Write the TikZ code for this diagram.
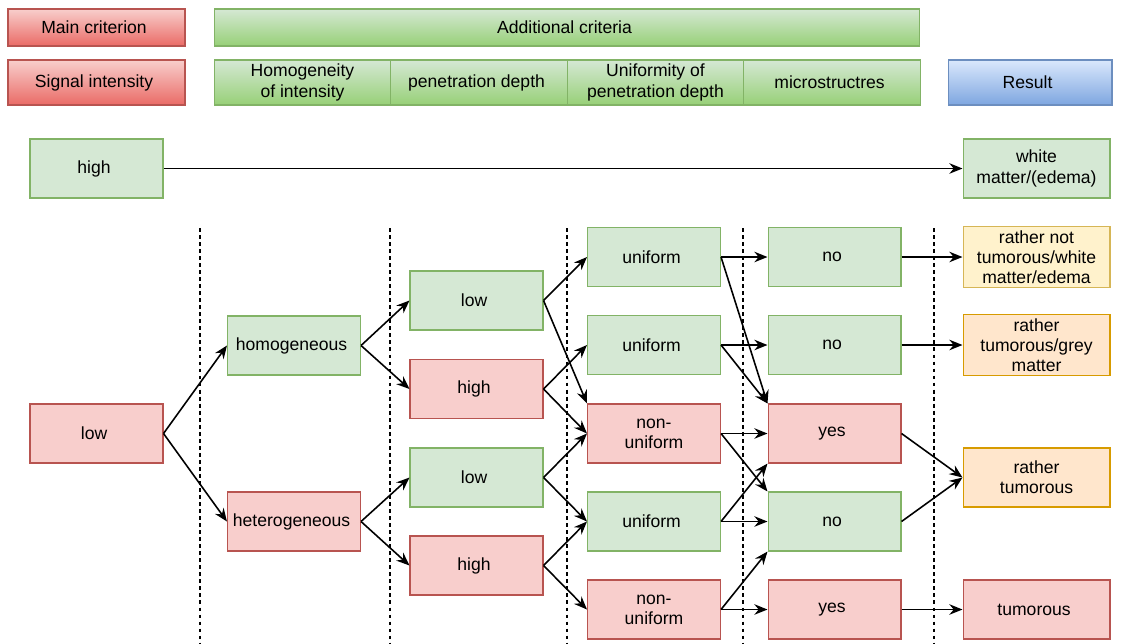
\documentclass[tikz,border=0pt]{standalone}
\usepackage{fontspec}
\setmainfont{Liberation Sans}
\usetikzlibrary{arrows,arrows.meta,positioning,shapes}
\usepackage{xcolor}
\definecolor{greenfill}{HTML}{D5E8D4}
\definecolor{greenline}{HTML}{82B366}
\definecolor{greendark}{HTML}{97D077}
\definecolor{redfill}{HTML}{F8CECC}
\definecolor{redline}{HTML}{B85450}
\definecolor{reddark}{HTML}{EA6B66}
\definecolor{bluefill}{HTML}{DAE8FC}
\definecolor{blueline}{HTML}{6C8EBF}
\definecolor{bluedark}{HTML}{7EA6E0}
\definecolor{yellowfill}{HTML}{FFF2CC}
\definecolor{yellowline}{HTML}{D6B656}
\definecolor{orangefill}{HTML}{FFE6CC}
\definecolor{orangeline}{HTML}{D79B00}

\begin{document}
\begin{tikzpicture}[x=0.02cm, y=-0.02cm, every node/.style={
    rectangle,
    inner sep=2pt,
    draw,
    line width=0.6pt,
    align=center,
    font=\fontsize{10}{11.5}\selectfont,
    minimum width=2.66cm,
    minimum height=1.18cm
},
greenbox/.style={fill=greenfill, draw=greenline},
redbox/.style={fill=redfill, draw=redline},
yellowbox/.style={fill=yellowfill, draw=yellowline, minimum width=2.94cm},
orangebox/.style={fill=orangefill, draw=orangeline, minimum width=2.94cm},
greenhead/.style={top color=greenfill, bottom color=greendark, draw=greenline, minimum width=3.53cm, minimum height=0.9cm},
redhead/.style={top color=redfill, bottom color=reddark, draw=redline, minimum width=3.54cm, minimum height=0.9cm},
bluehead/.style={top color=bluefill, bottom color=bluedark, draw=blueline, minimum width=3.28cm, minimum height=0.9cm},
link/.style={-{Stealth[length=7.5pt, width=6pt, inset=2.5pt]}, line width=0.9pt},
separator/.style={dash pattern=on 2.2pt off 1.8pt, line width=0.8pt}
]
    \useasboundingbox (0,0) rectangle (1121,643);
    % header rows
    \node (main_criterion) [redhead, minimum height=0.74cm, shift={(96.5,27.5)}]
    {
        Main criterion
    };
    \node (additional_criteria) [greenhead, minimum width=14.12cm, minimum height=0.74cm, shift={(567,27.5)}]
    {
        Additional criteria
    };
    \node (signal_intensity) [redhead, shift={(96.5,82.5)}]
    {
        Signal intensity
    };
    \node (homogeneity) [greenhead, shift={(302.5,82.5)}]
    {
        Homogeneity\\of intensity
    };
    \node (penetration_depth) [greenhead, shift={(479,82.5)}]
    {
        penetration depth
    };
    \node (uniformity) [greenhead, shift={(655.5,82.5)}]
    {
        Uniformity of\\penetration depth
    };
    \node (microstructures) [greenhead, shift={(832,82.5)}]
    {
        microstructres
    };
    \node (result) [bluehead, shift={(1030,82.5)}]
    {
        Result
    };
    % high signal
    \node (high_signal) [greenbox, shift={(96.5,168.5)}]
    {
        high
    };
    \node (white_matter) [greenbox, minimum width=2.94cm, shift={(1036.5,168.5)}]
    {
        white\\matter/(edema)
    };
    % low signal tree
    \node (low_signal) [redbox, shift={(96.5,433.5)}]
    {
        low
    };
    \node (homogeneous) [greenbox, shift={(294,345.5)}]
    {
        homogeneous
    };
    \node (heterogeneous) [redbox, shift={(294,521.5)}]
    {
        heterogeneous
    };
    \node (hom_low) [greenbox, shift={(476.5,300.5)}]
    {
        low
    };
    \node (hom_high) [redbox, shift={(476.5,389)}]
    {
        high
    };
    \node (het_low) [greenbox, shift={(476.5,477.5)}]
    {
        low
    };
    \node (het_high) [redbox, shift={(476.5,565.5)}]
    {
        high
    };
    \node (uniform_a) [greenbox, shift={(654,257)}]
    {
        uniform
    };
    \node (uniform_b) [greenbox, shift={(654,345)}]
    {
        uniform
    };
    \node (nonuniform_a) [redbox, shift={(654,433.5)}]
    {
        non-\\uniform
    };
    \node (uniform_c) [greenbox, shift={(654,521.5)}]
    {
        uniform
    };
    \node (nonuniform_b) [redbox, shift={(654,609.5)}]
    {
        non-\\uniform
    };
    \node (no_a) [greenbox, shift={(834.5,257)}]
    {
        no
    };
    \node (no_b) [greenbox, shift={(834.5,345)}]
    {
        no
    };
    \node (yes_a) [redbox, shift={(834.5,433.5)}]
    {
        yes
    };
    \node (no_c) [greenbox, shift={(834.5,521.5)}]
    {
        no
    };
    \node (yes_b) [redbox, shift={(834.5,609.5)}]
    {
        yes
    };
    \node (not_tumorous) [yellowbox, shift={(1036.5,257)}]
    {
        rather not\\tumorous/white\\matter/edema
    };
    \node (grey_matter) [orangebox, shift={(1036.5,345)}]
    {
        rather\\tumorous/grey\\matter
    };
    \node (rather_tumorous) [orangebox, shift={(1036.5,477.5)}]
    {
        rather\\tumorous
    };
    \node (tumorous) [redbox, minimum width=2.94cm, shift={(1036.5,609.5)}]
    {
        tumorous
    };
    % column separators
    \foreach \x in {200,390,567,743,934}
        \draw[separator] (\x,228) -- (\x,643);
    % connectors
    \draw[link] (high_signal) to (white_matter);
    \draw[link] (low_signal.east) to (homogeneous.west);
    \draw[link] (low_signal.east) to (heterogeneous.west);
    \draw[link] (homogeneous.east) to (hom_low.west);
    \draw[link] (homogeneous.east) to (hom_high.west);
    \draw[link] (heterogeneous.east) to (het_low.west);
    \draw[link] (heterogeneous.east) to (het_high.west);
    \draw[link] (hom_low.east) to (uniform_a.west);
    \draw[link] (hom_low.east) to (nonuniform_a.north west);
    \draw[link] (hom_high.east) to (uniform_b.west);
    \draw[link] (hom_high.east) to (nonuniform_a.west);
    \draw[link] (het_low.east) to (nonuniform_a.west);
    \draw[link] (het_low.east) to (uniform_c.west);
    \draw[link] (het_high.east) to (uniform_c.west);
    \draw[link] (het_high.east) to (nonuniform_b.west);
    \draw[link] (uniform_a.east) to (no_a.west);
    \draw[link] (uniform_a.east) to (yes_a.north west);
    \draw[link] (uniform_b.east) to (no_b.west);
    \draw[link] (uniform_b.east) to (yes_a.north west);
    \draw[link] (nonuniform_a.east) to (yes_a.west);
    \draw[link] (nonuniform_a.east) to (no_c.north west);
    \draw[link] (uniform_c.east) to (yes_a.south west);
    \draw[link] (uniform_c.east) to (no_c.west);
    \draw[link] (nonuniform_b.east) to (no_c.south west);
    \draw[link] (nonuniform_b.east) to (yes_b.west);
    \draw[link] (no_a) to (not_tumorous);
    \draw[link] (no_b) to (grey_matter);
    \draw[link] (yes_a.east) to (rather_tumorous.west);
    \draw[link] (no_c.east) to (rather_tumorous.west);
    \draw[link] (yes_b) to (tumorous);
\end{tikzpicture}
\end{document}
